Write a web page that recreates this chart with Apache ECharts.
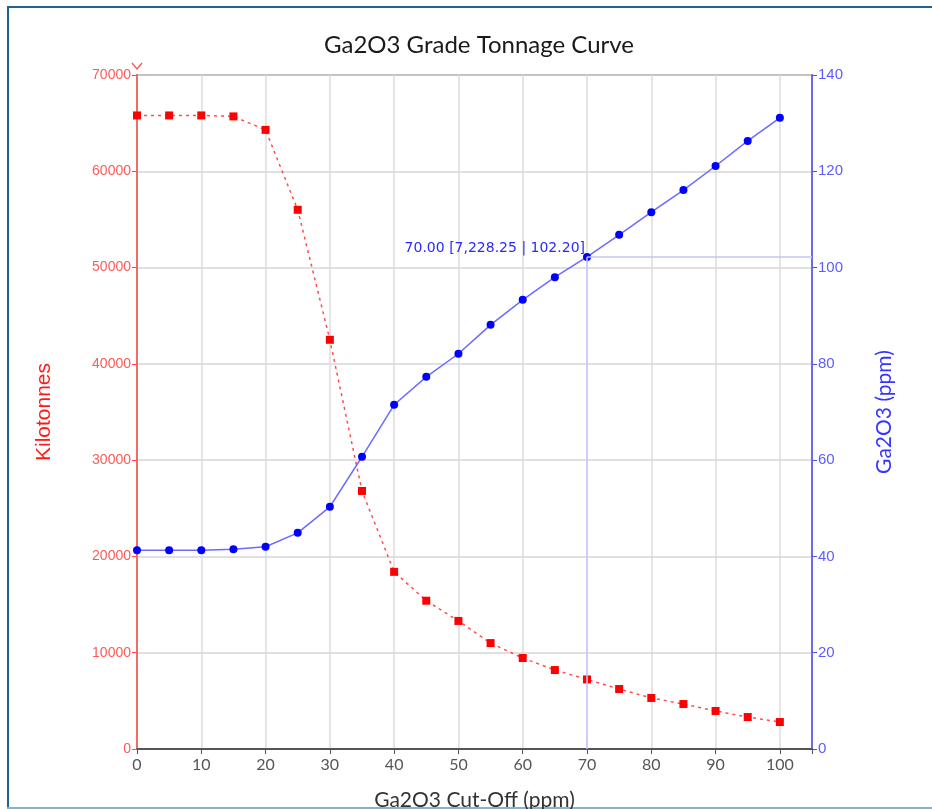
<!DOCTYPE html>
<html>
<head>
<meta charset="utf-8">
<script src="https://cdn.jsdelivr.net/npm/echarts@6/dist/echarts.min.js"></script>
<style>
html,body{margin:0;padding:0;background:#fff;}
#chart{width:932px;height:809px;}
</style>
</head>
<body>
<div id="chart"></div>
<script>
const cutoffs = [0,5,10,15,20,25,30,35,40,45,50,55,60,65,70,75,80,85,90,95,100];
const kilotonnes = [65800,65800,65800,65700,64300,56000,42500,26800,18400,15400,13300,11000,9450,8200,7228.25,6230,5300,4670,3950,3320,2800];
const grade = [41.3,41.3,41.3,41.5,42.0,44.9,50.3,60.7,71.5,77.3,82.1,88.1,93.3,98.0,102.2,106.8,111.5,116.1,121.1,126.3,131.1];
const leftTicks = [0,10000,20000,30000,40000,50000,60000,70000];
const rightTicks = [0,20,40,60,80,100,120,140];
const cursorX = 70;
const cursorT = 7228.25;
const cursorG = 102.20;

const chart = echarts.init(document.getElementById('chart'));
const fmt = n => n.toLocaleString('en-US',{minimumFractionDigits:2,maximumFractionDigits:2});
const cursorLabel = cursorX.toFixed(2) + ' [' + fmt(cursorT) + ' | ' + fmt(cursorG) + ']';

chart.setOption({
  animation:false,
  backgroundColor:'#ffffff',
  title:{
    text:'Ga2O3 Grade Tonnage Curve',
    left:474, top:28, textAlign:'center',
    textStyle:{fontFamily:'Lato',fontSize:24,fontWeight:'normal',color:'#1a1a1a'}
  },
  grid:{left:137,right:120,top:75,bottom:60,outerBoundsMode:'none',containLabel:false,
    show:true,borderColor:'#8c8c8c',borderWidth:2,backgroundColor:'transparent'},
  xAxis:{
    type:'value',min:0,max:105,interval:10,
    name:'Ga2O3 Cut-Off (ppm)',nameLocation:'middle',nameGap:41,
    nameTextStyle:{fontFamily:'Lato',fontSize:21,color:'#333'},
    axisLine:{show:true,lineStyle:{color:'#555',width:2}},
    axisTick:{show:true,length:5,lineStyle:{color:'#555'}},
    axisLabel:{color:'#555',fontFamily:'Lato',fontSize:16,margin:8,
      formatter:v=> (v%10===0 && v<=100) ? String(v) : ''},
    splitLine:{show:true,lineStyle:{color:'#dcdcdc',width:1.5}}
  },
  yAxis:[{
    type:'value',min:0,max:70000,interval:10000,position:'left',
    name:'Kilotonnes',nameLocation:'middle',nameGap:82,
    nameTextStyle:{fontFamily:'Liberation Sans',fontSize:21,color:'#ff1a1a'},
    axisLine:{show:true,lineStyle:{color:'#ff4d4d',width:1.5}},
    axisTick:{show:true,length:5,lineStyle:{color:'#ff4d4d'}},
    axisLabel:{color:'#ff5a5a',fontFamily:'Liberation Sans',fontSize:14,margin:6,
      formatter:v=> leftTicks.includes(v) ? String(v) : ''},
    splitLine:{show:true,lineStyle:{color:'#d6d6d6',width:1.5}}
  },{
    type:'value',min:0,max:140,interval:20,position:'right',
    name:'Ga2O3 (ppm)',nameLocation:'middle',nameGap:62,
    nameTextStyle:{fontFamily:'Lato',fontSize:21,color:'#3535ff'},
    axisLine:{show:true,lineStyle:{color:'#4d4dff',width:1.5}},
    axisTick:{show:true,length:5,lineStyle:{color:'#4d4dff'}},
    axisLabel:{color:'#5c5cff',fontFamily:'Liberation Sans',fontSize:15,margin:6,
      formatter:v=> rightTicks.includes(v) ? String(v) : ''},
    splitLine:{show:false}
  }],
  series:[{
    name:'Kilotonnes',type:'line',yAxisIndex:0,
    data:cutoffs.map((c,i)=>[c,kilotonnes[i]]),
    symbol:'rect',symbolSize:8,
    itemStyle:{color:'#ff0000'},
    lineStyle:{color:'#ff4d4d',width:1.5,type:[3,4]},
    z:3
  },{
    name:'Ga2O3',type:'line',yAxisIndex:1,
    data:cutoffs.map((c,i)=>[c,grade[i]]),
    symbol:'circle',symbolSize:8,
    itemStyle:{color:'#0000ff'},
    lineStyle:{color:'#6b6bff',width:1.5},
    z:4,
    markLine:{
      silent:true,symbol:'none',label:{show:false},
      lineStyle:{color:'#c4c4ff',width:1.5,type:'solid'},
      data:[
        [{coord:[cursorX,cursorG]},{coord:[cursorX,0]}],
        [{coord:[cursorX,cursorG]},{coord:[105,cursorG]}]
      ]
    },
    markPoint:{
      silent:true,symbol:'circle',symbolSize:0,
      data:[{coord:[cursorX,cursorG]}],
      label:{show:true,position:'left',distance:2,offset:[0,-9],
        formatter:cursorLabel,color:'#2a2aff',fontFamily:'DejaVu Sans',fontSize:14}
    }
  }],
  graphic:[
    {type:'polyline',shape:{points:[[132,63],[137,69],[142,63]]},style:{stroke:'#ff4d4d',lineWidth:1.2,fill:null}},
    {type:'line',shape:{x1:7,y1:7,x2:932,y2:7},style:{stroke:'#1f6391',lineWidth:2}},
    {type:'line',shape:{x1:8,y1:6,x2:8,y2:809},style:{stroke:'#1f6391',lineWidth:2}},
    {type:'line',shape:{x1:7,y1:808,x2:932,y2:808},style:{stroke:'#86b3cc',lineWidth:2}}
  ]
});
</script>
</body>
</html>
